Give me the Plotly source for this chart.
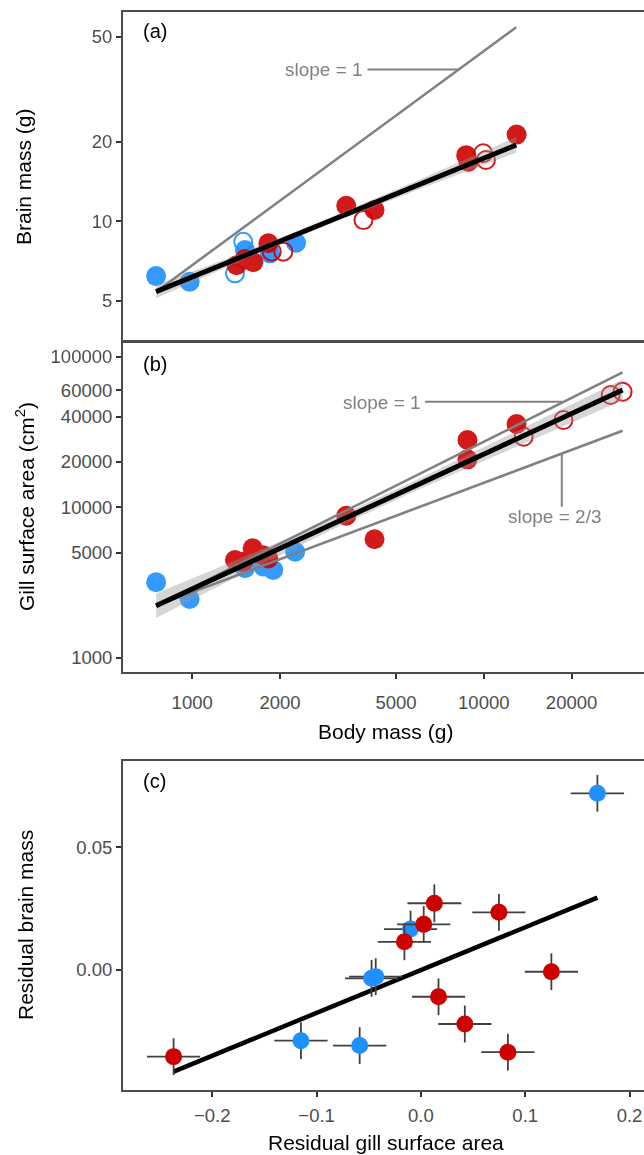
import math
import plotly.graph_objects as go

# ---------------- data ----------------
# Panel (a): body mass (g) vs brain mass (g)
a_blue_fill_mass = [752, 980, 1517, 1848, 2271]
a_blue_fill_brain = [6.2, 5.9, 7.78, 7.56, 8.29]
a_blue_open_mass = [1496, 1402]
a_blue_open_brain = [8.36, 6.35]
a_red_fill_mass = [1420, 1517, 1620, 1824, 3375, 4220, 8700, 8850, 12960]
a_red_fill_brain = [6.82, 7.2, 7.0, 8.25, 11.45, 11.03, 17.8, 16.8, 21.3]
a_red_open_mass = [1873, 2053, 3866, 9950, 10170]
a_red_open_brain = [7.67, 7.67, 10.1, 18.1, 17.06]

a_fit_mass = [752, 12920]
a_fit_brain = [5.41, 19.45]
a_band_mass = [752, 1500, 3000, 6000, 12920]
a_band_lo = [5.11, 7.14, 9.82, 13.21, 18.16]
a_band_hi = [5.73, 7.62, 10.38, 14.35, 20.84]
a_slope1_mass = [752, 12920]
a_slope1_brain = [5.41, 54.3]
a_leader_mass = [3990, 8200]
a_leader_brain = [37.6, 37.6]

# Panel (b): body mass (g) vs gill surface area (cm2)
b_blue_mass = [752, 980, 1517, 1755, 1896, 2254]
b_blue_gill = [3170, 2455, 3930, 4030, 3830, 5060]
b_red_fill_mass = [1402, 1496, 1612, 1750, 1824, 3375, 4220, 8790, 8790, 12950]
b_red_fill_gill = [4460, 4345, 5330, 4800, 4570, 8780, 6120, 27960, 20800, 35700]
b_red_open_mass = [13700, 18760, 27230, 29920]
b_red_open_gill = [29400, 37960, 55660, 58500]

b_fit_mass = [752, 29920]
b_fit_gill = [2216, 60130]
b_band_mass = [752, 1500, 3000, 6000, 11970, 29920]
b_band_lo = [1839, 3626, 7063, 13146, 23580, 51180]
b_band_hi = [2670, 4670, 8299, 15440, 29680, 70650]
b_slope1_gill = [2216, 78700]
b_slope23_gill = [2216, 32200]
b_leader1_mass = [6285, 18630]
b_leader1_gill = [50230, 50230]
b_leader23_mass = [18510, 18510]
b_leader23_gill = [22900, 10070]

# Panel (c): residuals
c_x = [0.1692, 0.0129, 0.0748, -0.0099, 0.0027, -0.0158, -0.0473, -0.0433,
       0.1251, 0.0169, 0.0421, 0.0834, -0.1150, -0.0587, -0.2371]
c_y = [0.0720, 0.0272, 0.0235, 0.0167, 0.0186, 0.0115, -0.0034, -0.0027,
       -0.0007, -0.0109, -0.0220, -0.0335, -0.0288, -0.0308, -0.0353]
c_xerr = [0.0256, 0.0258, 0.0255, 0.0255, 0.0255, 0.0255, 0.0255, 0.0255,
          0.0255, 0.0255, 0.0255, 0.0255, 0.0255, 0.0255, 0.0255]
c_yerr = [0.0075, 0.0077, 0.0075, 0.0075, 0.0075, 0.0075, 0.0075, 0.0075,
          0.0075, 0.0075, 0.0075, 0.0075, 0.0075, 0.0075, 0.0075]
c_group = ["blue", "red", "red", "blue", "red", "red", "blue", "blue",
           "red", "red", "red", "red", "blue", "blue", "red"]
c_fit_x = [-0.2371, 0.1692]
c_fit_y = [-0.0414, 0.0295]

a_ticks = [5, 10, 20, 50]
b_yticks = [1000, 5000, 10000, 20000, 40000, 60000, 100000]
b_xticks = [1000, 2000, 5000, 10000, 20000]
c_xticks = [-0.2, -0.1, 0.0, 0.1, 0.2]
c_xticktext = ["\u22120.2", "\u22120.1", "0.0", "0.1", "0.2"]
c_yticks = [0.0, 0.05]
c_yticktext = ["0.00", "0.05"]

# ---------------- style ----------------
FONT = "Liberation Sans, Arial, Helvetica, sans-serif"
BLUE = "#1E90FF"
RED = "#CD0000"
GREY_LINE = "#808080"
BAND = "rgba(153,153,153,0.4)"
FRAME = "#4d4d4d"
TICKC = "#4d4d4d"
W, H = 644, 1155

fig = go.Figure()


def add_pts(x, y, color, open_, xa, ya, size, opacity=0.9):
    if open_:
        marker = dict(symbol="circle-open", size=size - 2, color=color,
                      line=dict(width=2, color=color))
    else:
        marker = dict(symbol="circle", size=size, color=color, line=dict(width=0))
    fig.add_trace(go.Scatter(x=x, y=y, mode="markers", marker=marker, opacity=opacity,
                             xaxis=xa, yaxis=ya, showlegend=False, hoverinfo="skip"))


def add_line(x, y, color, width, xa, ya):
    fig.add_trace(go.Scatter(x=x, y=y, mode="lines", line=dict(color=color, width=width),
                             xaxis=xa, yaxis=ya, showlegend=False, hoverinfo="skip"))


def add_band(x, lo, hi, xa, ya):
    fig.add_trace(go.Scatter(x=list(x) + list(reversed(x)), y=list(hi) + list(reversed(lo)),
                             mode="lines", line=dict(width=0), fill="toself", fillcolor=BAND,
                             xaxis=xa, yaxis=ya, showlegend=False, hoverinfo="skip"))


# Panel (a)
add_pts(a_blue_fill_mass, a_blue_fill_brain, BLUE, False, "x", "y", 20)
add_pts(a_blue_open_mass, a_blue_open_brain, BLUE, True, "x", "y", 20)
add_pts(a_red_fill_mass, a_red_fill_brain, RED, False, "x", "y", 20)
add_pts(a_red_open_mass, a_red_open_brain, RED, True, "x", "y", 20)
add_band(a_band_mass, a_band_lo, a_band_hi, "x", "y")
add_line(a_slope1_mass, a_slope1_brain, GREY_LINE, 2.5, "x", "y")
add_line(a_leader_mass, a_leader_brain, GREY_LINE, 2, "x", "y")
add_line(a_fit_mass, a_fit_brain, "black", 5, "x", "y")

# Panel (b)
add_pts(b_blue_mass, b_blue_gill, BLUE, False, "x2", "y2", 20)
add_pts(b_red_fill_mass, b_red_fill_gill, RED, False, "x2", "y2", 20)
add_pts(b_red_open_mass, b_red_open_gill, RED, True, "x2", "y2", 20)
add_band(b_band_mass, b_band_lo, b_band_hi, "x2", "y2")
add_line(b_fit_mass, b_slope1_gill, GREY_LINE, 2.5, "x2", "y2")
add_line(b_fit_mass, b_slope23_gill, GREY_LINE, 2.5, "x2", "y2")
add_line(b_leader1_mass, b_leader1_gill, GREY_LINE, 2, "x2", "y2")
add_line(b_leader23_mass, b_leader23_gill, GREY_LINE, 2, "x2", "y2")
add_line(b_fit_mass, b_fit_gill, "black", 5, "x2", "y2")

# Panel (c)
add_line(c_fit_x, c_fit_y, "black", 4.5, "x3", "y3")
for grp, col in (("blue", BLUE), ("red", RED)):
    idx = [i for i, g in enumerate(c_group) if g == grp]
    fig.add_trace(go.Scatter(
        x=[c_x[i] for i in idx], y=[c_y[i] for i in idx], mode="markers",
        marker=dict(symbol="circle", size=17, color=col, line=dict(width=0)),
        error_x=dict(type="data", array=[c_xerr[i] for i in idx], color="#404040",
                     thickness=1.8, width=0),
        error_y=dict(type="data", array=[c_yerr[i] for i in idx], color="#404040",
                     thickness=1.8, width=0),
        xaxis="x3", yaxis="y3", showlegend=False, hoverinfo="skip"))


def py(px):
    return 1 - px / H


x0 = 123 / W
tickfont = dict(family=FONT, size=18.5, color=TICKC)
common = dict(showgrid=False, zeroline=False, showline=True, linecolor=FRAME, linewidth=2,
              ticks="outside", ticklen=5, tickwidth=1.5, tickcolor="#333333", tickfont=tickfont)

log_x_range = [2.7627, 4.5494]

fig.update_layout(
    width=W, height=H, margin=dict(l=0, r=0, t=0, b=0),
    paper_bgcolor="white", plot_bgcolor="white",
    font=dict(family=FONT),
    xaxis=dict(domain=[x0, 1], type="log", range=log_x_range, anchor="y",
               showgrid=False, zeroline=False, showline=True, mirror=True,
               linecolor=FRAME, linewidth=2, ticks="", showticklabels=False),
    yaxis=dict(domain=[py(341), py(12)], type="log", range=[0.5464, 1.7926], anchor="x",
               tickvals=a_ticks, ticktext=[str(v) for v in a_ticks], **common),
    xaxis2=dict(domain=[x0, 1], type="log", range=log_x_range, anchor="y2", mirror=True,
                tickvals=b_xticks, ticktext=[str(v) for v in b_xticks],
                ticklabelstandoff=8, **common),
    yaxis2=dict(domain=[py(671.7), py(342)], type="log", range=[2.907, 5.0977], anchor="x2",
                tickvals=b_yticks, ticktext=[str(v) for v in b_yticks], **common),
    xaxis3=dict(domain=[x0, 1], range=[-0.2856, 0.2139], anchor="y3", mirror=True,
                tickvals=c_xticks, ticktext=c_xticktext, ticklabelstandoff=3, **common),
    yaxis3=dict(domain=[py(1090), py(760.7)], range=[-0.0489, 0.0853], anchor="x3",
                tickvals=c_yticks, ticktext=c_yticktext, **common),
)

title_font = dict(family=FONT, size=21, color="black")
label_font = dict(family=FONT, size=20, color="black")
note_font = dict(family=FONT, size=19, color=GREY_LINE)

annotations = [
    # panel labels
    dict(text="(a)", x=141 / W, y=py(31.5), xref="paper", yref="paper",
         xanchor="left", yanchor="middle", showarrow=False, font=label_font),
    dict(text="(b)", x=141 / W, y=py(364), xref="paper", yref="paper",
         xanchor="left", yanchor="middle", showarrow=False, font=label_font),
    dict(text="(c)", x=141 / W, y=py(781), xref="paper", yref="paper",
         xanchor="left", yanchor="middle", showarrow=False, font=label_font),
    # axis titles
    dict(text="Brain mass (g)", x=24 / W, y=py(177), xref="paper", yref="paper",
         textangle=-90, xanchor="center", yanchor="middle", showarrow=False, font=title_font),
    dict(text="Gill surface area (cm<sup>2</sup>)", x=25 / W, y=py(507), xref="paper",
         yref="paper", textangle=-90, xanchor="center", yanchor="middle", showarrow=False,
         font=title_font),
    dict(text="Residual brain mass", x=25 / W, y=py(925), xref="paper", yref="paper",
         textangle=-90, xanchor="center", yanchor="middle", showarrow=False, font=title_font),
    dict(text="Body mass (g)", x=385.5 / W, y=py(731), xref="paper", yref="paper",
         xanchor="center", yanchor="middle", showarrow=False, font=title_font),
    dict(text="Residual gill surface area", x=386 / W, y=py(1142), xref="paper", yref="paper",
         xanchor="center", yanchor="middle", showarrow=False, font=title_font),
    # slope notes
    dict(text="slope = 1", x=math.log10(a_leader_mass[0]), y=math.log10(a_leader_brain[0]),
         xref="x", yref="y", xanchor="right", yanchor="middle", xshift=-2,
         showarrow=False, font=note_font),
    dict(text="slope = 1", x=math.log10(b_leader1_mass[0]), y=math.log10(b_leader1_gill[0]),
         xref="x2", yref="y2", xanchor="right", yanchor="middle", xshift=-2, yshift=-1,
         showarrow=False, font=note_font),
    dict(text="slope = 2/3", x=math.log10(b_leader23_mass[0]), y=math.log10(b_leader23_gill[1]),
         xref="x2", yref="y2", xanchor="center", yanchor="top", xshift=-7, yshift=3,
         showarrow=False, font=note_font),
]
fig.update_layout(annotations=annotations)

fig.write_html("out.html", config={"displayModeBar": False},
               post_script="document.body.style.margin='0';")
